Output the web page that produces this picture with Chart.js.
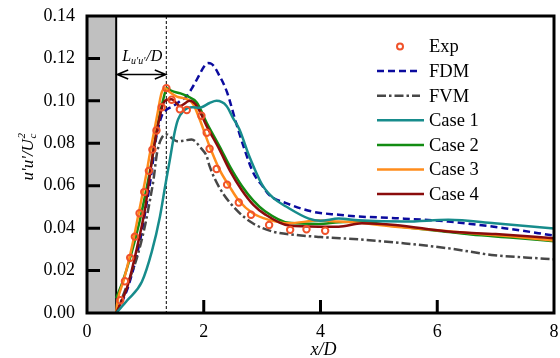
<!DOCTYPE html>
<html>
<head>
<meta charset="utf-8">
<script src="https://cdn.jsdelivr.net/npm/chart.js@4.4.1/dist/chart.umd.min.js"></script>
<style>
html,body{margin:0;padding:0;background:#fff;}
canvas{display:block;}
</style>
</head>
<body>
<canvas id="c" width="560" height="358"></canvas>
<script>
// ---- data ----
const xTicks = [0, 2, 4, 6, 8];
const yTicks = [0, 0.02, 0.04, 0.06, 0.08, 0.10, 0.12, 0.14];
const seriesNames = ['Exp', 'FDM', 'FVM', 'Case 1', 'Case 2', 'Case 3', 'Case 4'];

const expX = [0.57, 0.65, 0.74, 0.82, 0.90, 0.98, 1.06, 1.12, 1.19, 1.28, 1.36, 1.45, 1.59, 1.71, 1.96, 2.05, 2.10, 2.22, 2.40, 2.60, 2.81, 3.12, 3.48, 3.76, 4.08];
const expY = [0.006, 0.015, 0.026, 0.036, 0.047, 0.057, 0.067, 0.077, 0.086, 0.097, 0.106, 0.1005, 0.096, 0.0957, 0.093, 0.085, 0.0774, 0.0679, 0.0605, 0.0521, 0.0463, 0.0415, 0.0392, 0.0395, 0.0388];

const fdmX = [0.5, 0.7, 0.9, 1.0, 1.1, 1.17, 1.28, 1.37, 1.48, 1.6, 1.71, 1.82, 1.92, 2.0, 2.07, 2.13, 2.27, 2.4, 2.55, 2.7, 2.85, 3.01, 3.12, 3.41, 3.86, 4.31, 4.65, 5.28, 6.19, 7.15, 8.0];
const fdmY = [0.0, 0.012, 0.033, 0.048, 0.065, 0.0802, 0.093, 0.096, 0.0976, 0.100, 0.1023, 0.107, 0.112, 0.116, 0.1178, 0.1175, 0.1118, 0.104, 0.090, 0.077, 0.066, 0.0597, 0.0557, 0.0518, 0.0478, 0.0463, 0.0455, 0.0447, 0.0431, 0.040, 0.0365];

const fvmX = [0.5, 0.63, 0.86, 1.0, 1.08, 1.14, 1.2, 1.27, 1.37, 1.45, 1.54, 1.65, 1.79, 1.96, 2.05, 2.1, 2.27, 2.56, 2.84, 3.18, 3.58, 4.0, 4.65, 5.45, 6.19, 6.98, 7.5, 8.0];
const fvmY = [0.0, 0.0091, 0.0265, 0.042, 0.0534, 0.063, 0.0755, 0.082, 0.0842, 0.0825, 0.081, 0.0812, 0.0818, 0.0775, 0.0739, 0.0692, 0.059, 0.0486, 0.0423, 0.0384, 0.0368, 0.0358, 0.0347, 0.0328, 0.0305, 0.0272, 0.0262, 0.0253];

const case1X = [0.5, 0.69, 0.94, 1.11, 1.25, 1.34, 1.42, 1.5, 1.56, 1.65, 1.8, 1.93, 2.1, 2.22, 2.39, 2.5, 2.61, 2.78, 3.01, 3.2, 3.41, 3.8, 4.0, 4.31, 4.65, 5.45, 6.19, 6.98, 8.0];
const case1Y = [0.0, 0.006, 0.0147, 0.0289, 0.0455, 0.060, 0.0723, 0.085, 0.0913, 0.0952, 0.097, 0.0968, 0.099, 0.100, 0.0976, 0.092, 0.0866, 0.0739, 0.060, 0.054, 0.0502, 0.0445, 0.0435, 0.0445, 0.0437, 0.0431, 0.0439, 0.0423, 0.0398];

const case2X = [0.5, 0.6, 0.75, 0.9, 1.0, 1.1, 1.2, 1.3, 1.37, 1.45, 1.6, 1.71, 1.88, 2.05, 2.27, 2.45, 2.65, 2.85, 3.05, 3.46, 3.97, 4.31, 4.65, 5.28, 6.0, 6.58, 7.3, 8.0];
const case2Y = [0.007, 0.014, 0.027, 0.043, 0.056, 0.070, 0.087, 0.100, 0.106, 0.1047, 0.1035, 0.1023, 0.0992, 0.0897, 0.0786, 0.069, 0.060, 0.053, 0.048, 0.0425, 0.042, 0.0428, 0.0431, 0.041, 0.0388, 0.037, 0.0355, 0.0338];

const case3X = [0.5, 0.52, 0.63, 0.77, 0.885, 1.0, 1.08, 1.2, 1.28, 1.34, 1.42, 1.54, 1.71, 1.82, 1.93, 2.10, 2.27, 2.44, 2.6, 2.84, 3.12, 3.46, 3.97, 4.31, 4.65, 5.28, 6.0, 6.58, 7.3, 8.0];
const case3Y = [0.0, 0.005, 0.0155, 0.0312, 0.047, 0.063, 0.0755, 0.0929, 0.104, 0.106, 0.104, 0.102, 0.1008, 0.0984, 0.0913, 0.0786, 0.0676, 0.0597, 0.053, 0.047, 0.0439, 0.0423, 0.0436, 0.0431, 0.0425, 0.0407, 0.039, 0.0376, 0.036, 0.0342];

const case4X = [0.5, 0.69, 0.86, 1.0, 1.05, 1.14, 1.25, 1.31, 1.37, 1.45, 1.59, 1.76, 1.88, 2.05, 2.27, 2.45, 2.65, 2.85, 3.05, 3.46, 3.97, 4.31, 4.71, 5.28, 6.19, 7.0, 8.0];
const case4Y = [0.0, 0.0123, 0.0312, 0.050, 0.0597, 0.077, 0.093, 0.099, 0.1005, 0.1008, 0.0976, 0.100, 0.0976, 0.0881, 0.077, 0.067, 0.058, 0.051, 0.0465, 0.0412, 0.0407, 0.0407, 0.0423, 0.0415, 0.0384, 0.0372, 0.0352];

const dividerX = 0.5;      // end of grey block
const lengthX = 1.35;      // dashed marker line
const arrowY = 0.1127;     // annotation arrow level

function pts(xs, ys) { return xs.map((x, i) => ({ x: x, y: ys[i] })); }

const FONT = '"Liberation Serif", "Times New Roman", serif';

const styles = [
  { color: '#f0522a', dash: [], kind: 'marker' },
  { color: '#0b0b9e', dash: [7, 4], kind: 'line' },
  { color: '#474747', dash: [9, 3, 2.5, 3], kind: 'line' },
  { color: '#178c8c', dash: [], kind: 'line' },
  { color: '#138c13', dash: [], kind: 'line' },
  { color: '#ff8c1c', dash: [], kind: 'line' },
  { color: '#8a0c0c', dash: [], kind: 'line' }
];
const dataSets = [pts(expX, expY), pts(fdmX, fdmY), pts(fvmX, fvmY), pts(case1X, case1Y), pts(case2X, case2Y), pts(case3X, case3Y), pts(case4X, case4Y)];
const drawOrder = [0, 6, 5, 1, 4, 3, 2];

const datasets = seriesNames.map((name, i) => {
  const s = styles[i];
  if (s.kind === 'marker') {
    return {
      label: name, data: dataSets[i], showLine: false, order: drawOrder[i],
      pointRadius: 3.2, pointBorderWidth: 2, pointBorderColor: s.color,
      pointBackgroundColor: 'rgba(255,255,255,0)', pointStyle: 'circle'
    };
  }
  return {
    label: name, data: dataSets[i], showLine: true, order: drawOrder[i],
    borderColor: s.color, borderWidth: 2.5, borderDash: s.dash,
    pointRadius: 0, fill: false, cubicInterpolationMode: 'monotone'
  };
});

const decor = {
  id: 'decor',
  beforeDatasetsDraw(chart) {
    const { ctx, chartArea: a, scales: { x, y } } = chart;
    ctx.save();
    const xd = x.getPixelForValue(dividerX);
    ctx.fillStyle = '#c0c0c0';
    ctx.fillRect(a.left, a.top, xd - a.left, a.bottom - a.top);
    ctx.strokeStyle = '#000';
    ctx.lineWidth = 2;
    ctx.beginPath(); ctx.moveTo(xd, a.top); ctx.lineTo(xd, a.bottom); ctx.stroke();
    // dashed line
    const xl = x.getPixelForValue(lengthX);
    ctx.lineWidth = 1;
    ctx.setLineDash([3, 2]);
    ctx.beginPath(); ctx.moveTo(xl + 0.5, a.top); ctx.lineTo(xl + 0.5, a.bottom); ctx.stroke();
    ctx.setLineDash([]);
    // arrow
    const ya = Math.round(y.getPixelForValue(arrowY)) + 0.5;
    ctx.lineWidth = 1.5;
    ctx.beginPath();
    ctx.moveTo(xd + 1, ya); ctx.lineTo(xl, ya);
    ctx.moveTo(xd + 12, ya - 4.5); ctx.lineTo(xd + 1, ya); ctx.lineTo(xd + 12, ya + 4.5);
    ctx.moveTo(xl - 11, ya - 4.5); ctx.lineTo(xl, ya); ctx.lineTo(xl - 11, ya + 4.5);
    ctx.stroke();
    // label L_{u'u'}/D
    ctx.fillStyle = '#000';
    ctx.textBaseline = 'alphabetic';
    ctx.textAlign = 'left';
    let cx = xd + 6;
    const by = ya - 14;
    ctx.font = 'italic 16px ' + FONT;
    ctx.fillText('L', cx, by); cx += ctx.measureText('L').width;
    ctx.font = 'italic 10px ' + FONT;
    ctx.fillText("u'u'", cx, by + 3); cx += ctx.measureText("u'u'").width + 1;
    ctx.font = 'italic 16px ' + FONT;
    ctx.fillText('/D', cx, by);
    ctx.restore();
  },
  afterDatasetsDraw(chart) {
    const { ctx, chartArea: a, scales: { x, y } } = chart;
    ctx.save();
    ctx.strokeStyle = '#000';
    ctx.lineWidth = 3;
    ctx.beginPath();
    xTicks.forEach(v => {
      const px = x.getPixelForValue(v);
      if (v > x.min && v < x.max) { ctx.moveTo(px, a.bottom); ctx.lineTo(px, a.bottom - 13); }
    });
    yTicks.forEach(v => {
      const py = y.getPixelForValue(v);
      if (v > y.min && v < y.max) { ctx.moveTo(a.left, py); ctx.lineTo(a.left + 13, py); }
    });
    ctx.stroke();
    ctx.strokeRect(a.left, a.top, a.right - a.left, a.bottom - a.top);
    ctx.restore();
  },
  afterDraw(chart) {
    const { ctx, chartArea: a } = chart;
    ctx.save();
    ctx.fillStyle = '#000';
    // legend
    const lx0 = 377, lx1 = 424, tx = 429, y0 = 46.5, dy = 24.6;
    chart.data.datasets.forEach((ds, i) => {
      const s = styles[i];
      const yy = y0 + i * dy;
      if (s.kind === 'marker') {
        ctx.strokeStyle = s.color; ctx.lineWidth = 2;
        ctx.beginPath(); ctx.arc(400, yy, 3, 0, Math.PI * 2); ctx.stroke();
      } else {
        ctx.strokeStyle = s.color; ctx.lineWidth = 2.5;
        ctx.setLineDash(s.dash);
        ctx.beginPath(); ctx.moveTo(lx0, yy); ctx.lineTo(i < 3 ? lx1 - 4 : lx1, yy); ctx.stroke();
        ctx.setLineDash([]);
      }
      ctx.font = '18.5px ' + FONT;
      ctx.textBaseline = 'middle';
      ctx.textAlign = 'left';
      ctx.fillText(ds.label, tx, yy + 1);
    });
    // x title
    ctx.font = 'italic 18px ' + FONT;
    ctx.textAlign = 'center';
    ctx.textBaseline = 'alphabetic';
    ctx.fillText('x/D', (a.left + a.right) / 2 + 3, 355);
    // y title
    ctx.translate(33, 157);
    ctx.rotate(-Math.PI / 2);
    const big = 'italic 17px ' + FONT, small = 'italic 11px ' + FONT;
    ctx.font = big; const w1 = ctx.measureText("u'u'/U").width;
    ctx.font = small; const w2 = ctx.measureText('2').width;
    let cx = -(w1 + w2) / 2;
    ctx.textAlign = 'left';
    ctx.font = big; ctx.fillText("u'u'/U", cx, 0); cx += w1 + 0.5;
    ctx.font = small; ctx.fillText('2', cx, -8); ctx.fillText('c', cx, 3);
    ctx.restore();
  }
};

new Chart(document.getElementById('c'), {
  type: 'scatter',
  data: { datasets: datasets },
  options: {
    responsive: false,
    animation: false,
    devicePixelRatio: 1,
    layout: { padding: { top: 16, right: 3, left: 0, bottom: 0 } },
    plugins: { legend: { display: false }, tooltip: { enabled: false } },
    scales: {
      x: {
        type: 'linear', min: 0, max: 8,
        afterFit(s) { s.height = 45; s.paddingLeft = 0; s.paddingRight = 0; },
        afterBuildTicks(s) { s.ticks = xTicks.map(v => ({ value: v })); },
        grid: { display: false, drawTicks: false },
        border: { display: false },
        ticks: { color: '#000', font: { family: FONT, size: 18 }, padding: 8, maxRotation: 0,
          callback: v => String(v) }
      },
      y: {
        type: 'linear', min: 0, max: 0.14,
        afterFit(s) { s.width = 87; s.paddingTop = 0; s.paddingBottom = 0; },
        afterBuildTicks(s) { s.ticks = yTicks.map(v => ({ value: v })); },
        grid: { display: false, drawTicks: false },
        border: { display: false },
        ticks: { color: '#000', font: { family: FONT, size: 18 }, padding: 12,
          callback: v => Number(v).toFixed(2) }
      }
    }
  },
  plugins: [decor]
});
</script>
</body>
</html>
